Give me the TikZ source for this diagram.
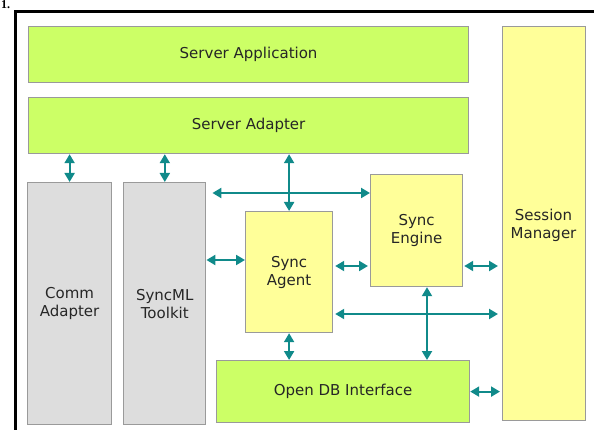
\documentclass[tikz,border=0pt]{standalone}
\usepackage{fontspec}
\setmainfont{DejaVu Sans}
\newfontfamily\numfont{Liberation Serif}
\usepackage{tikz}
\usetikzlibrary{arrows.meta,positioning,calc}
\definecolor{appgreen}{HTML}{CCFF66}
\definecolor{syncyellow}{HTML}{FFFF99}
\definecolor{lowgray}{HTML}{DDDDDD}
\definecolor{boxedge}{HTML}{9A9A9A}
\definecolor{linkteal}{HTML}{108A8A}
\tikzset{
  >=Stealth,
  every node/.append style={text=black!85},
}
\tikzset{
  blk/.style={anchor=north west, align=center, inner sep=0pt, line width=1.2pt},
  link/.style={{Triangle[length=9pt,width=10pt]}-{Triangle[length=9pt,width=10pt]}, line width=2pt, draw=linkteal}
}

\begin{document}
\begin{tikzpicture}[
  x=1pt, y=-1pt,
  font=\fontsize{15}{18}\selectfont,
  cApp/.style ={fill=appgreen,   draw=boxedge},
  cSync/.style={fill=syncyellow, draw=boxedge},
  cLow/.style ={fill=lowgray,    draw=boxedge}
]
\useasboundingbox (0,0) rectangle (594,430);

% frame of the page
\node[anchor=base west, inner sep=0pt, text=black, font=\numfont\bfseries\fontsize{12}{12}\selectfont] (fignum) at (1,9) {1.};
\draw[line width=3pt] (594,11.5) -- (15.5,11.5) -- (15.5,430);

% upper layers
\node[blk,cApp, minimum width=440pt, minimum height=56pt] (sapp) at (28,26) {Server Application};
\node[blk,cApp, minimum width=440pt, minimum height=56pt] (sadp) at (28,97) {Server Adapter};

% lower blocks
\node[blk,cLow, minimum width=84pt, minimum height=242pt] (comm) at (27,182) {Comm\\Adapter};
\node[blk,cLow, minimum width=82pt, minimum height=242pt, right=11pt of comm] (tkit) {SyncML\\Toolkit};
\node[blk,cSync, minimum width=87pt, minimum height=121pt] (agent)  at (245,211) {Sync\\Agent};
\node[blk,cSync, minimum width=92pt, minimum height=112pt] (engine) at (370,174) {Sync\\Engine};
\node[blk,cApp,  minimum width=253pt, minimum height=62pt] (odb)   at (216,360) {Open DB Interface};

\node[blk,cSync, minimum width=83pt, minimum height=394pt] (smgr) at (502,26) {};
\node[align=center, inner sep=0pt] (smgrT) at (543.5,225) {Session\\Manager};

% rows and columns of the links
\coordinate (bus) at (0,193);
\coordinate (r2)  at (0,260);
\coordinate (r3)  at (0,266);
\coordinate (r4)  at (0,314);
\coordinate (c1)  at (427,0);

\draw[link] (comm.north) -- (comm.north |- sadp.south);
\draw[link] (tkit.north) -- (tkit.north |- sadp.south);
\draw[link] (agent.north) -- (agent.north |- sadp.south);
\draw[link, shorten <=6pt] (tkit.east |- bus) -- (engine.west |- bus);
\draw[link] (tkit.east |- r2) -- (agent.west |- r2);
\draw[link, shorten <=2pt, shorten >=2pt] (agent.east |- r3) -- (engine.west |- r3);
\draw[link, shorten <=1pt, shorten >=4pt] (engine.east |- r3) -- (smgr.west |- r3);
\draw[link, shorten <=2pt, shorten >=4pt] (agent.east |- r4) -- (smgr.west |- r4);
\draw[link] (c1 |- engine.south) -- (c1 |- odb.north);
\draw[link] (agent.south) -- (agent.south |- odb.north);
\draw[link, shorten >=2pt] (odb.east) -- (odb.east -| smgr.west);

\end{tikzpicture}
\end{document}
